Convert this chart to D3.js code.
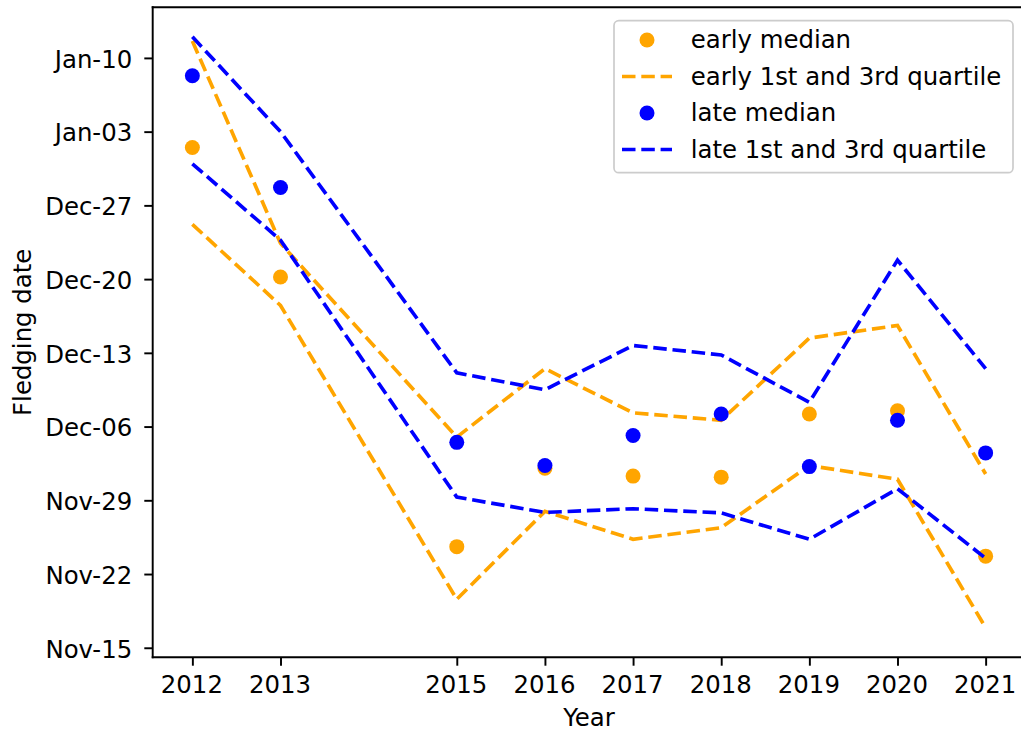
<!DOCTYPE html>
<html><head><meta charset="utf-8">
<script src="https://cdn.jsdelivr.net/npm/d3@7"></script>
<style>
body{margin:0;background:#fff;}
svg{display:block;font-family:"DejaVu Sans",sans-serif;}
</style>
</head><body>
<svg id="c" width="1021" height="731"></svg>
<script>
// ---- data (values: days after Nov-15) ----
const years = [2012, 2013, 2015, 2016, 2017, 2018, 2019, 2020, 2021];
const earlyMedian = [47.5, 35.2, 9.6, 17.05, 16.3, 16.2, 22.2, 22.5, 8.7];
const earlyQ1     = [40.2, 32.5, 4.6, 12.95, 10.3, 11.4, 17.3, 16.0, 1.9];
const earlyQ3     = [57.6, 38.4, 20.0, 26.5, 22.3, 21.6, 29.4, 30.6, 16.5];
const lateMedian  = [54.3, 43.7, 19.5, 17.3, 20.15, 22.2, 17.2, 21.6, 18.5];
const lateQ1      = [45.95, 38.7, 14.3, 12.85, 13.2, 12.8, 10.3, 15.1, 8.5];
const lateQ3      = [58.0, 49.0, 26.1, 24.5, 28.7, 27.8, 23.3, 36.8, 26.5];
const dayTicks      = [0, 7, 14, 21, 28, 35, 42, 49, 56];
const dayTickLabels = ["Nov-15", "Nov-22", "Nov-29", "Dec-06", "Dec-13", "Dec-20", "Dec-27", "Jan-03", "Jan-10"];
const legendLabels  = ["early median", "early 1st and 3rd quartile", "late median", "late 1st and 3rd quartile"];
const ORANGE = "#FFA500", BLUE = "#0000FF";

// ---- layout ----
const L = 152.7, R = 1025.3, T = 7.3, B = 657.3;
const FS = 24.4;
const LW = 3.65, AXW = 1.94, TICK = 8.4, MR = 7.5;
const dash = "13.5,5.8";
const svg = d3.select("#c");

const pad = (ext) => { const d = (ext[1] - ext[0]) * 0.05; return [ext[0] - d, ext[1] + d]; };
const x = d3.scaleLinear().domain(pad(d3.extent(years))).range([L, R]);
const allVals = [].concat(earlyMedian, earlyQ1, earlyQ3, lateMedian, lateQ1, lateQ3);
const y = d3.scaleLinear().domain(pad(d3.extent(allVals))).range([B, T]);

const line = d3.line().x((d, i) => x(years[i])).y(d => y(d));

function drawLine(vals, color) {
  svg.append("path").datum(vals).attr("d", line)
    .attr("fill", "none").attr("stroke", color).attr("stroke-width", LW)
    .attr("stroke-dasharray", dash).attr("stroke-linecap", "butt");
}
function drawDots(vals, color) {
  svg.append("g").selectAll("circle").data(vals).join("circle")
    .attr("cx", (d, i) => x(years[i])).attr("cy", d => y(d)).attr("r", MR)
    .attr("fill", color);
}

drawDots(earlyMedian, ORANGE);
drawLine(earlyQ1, ORANGE);
drawLine(earlyQ3, ORANGE);
drawDots(lateMedian, BLUE);
drawLine(lateQ1, BLUE);
drawLine(lateQ3, BLUE);

// ---- axes ----
const xAxis = svg.append("g").attr("transform", `translate(0,${B})`)
  .call(d3.axisBottom(x).tickValues(years).tickFormat(d3.format("d")).tickSize(TICK).tickSizeOuter(0));
xAxis.select(".domain").remove();
xAxis.selectAll(".tick line").attr("stroke", "#000").attr("stroke-width", AXW);
xAxis.selectAll(".tick text").attr("y", 36).attr("dy", null).attr("dx", -1)
  .attr("font-size", FS).attr("fill", "#000").attr("font-family", "DejaVu Sans");

const yAxis = svg.append("g").attr("transform", `translate(${L},0)`)
  .call(d3.axisLeft(y).tickValues(dayTicks).tickFormat((d, i) => dayTickLabels[i]).tickSize(TICK).tickSizeOuter(0));
yAxis.select(".domain").remove();
yAxis.selectAll(".tick line").attr("stroke", "#000").attr("stroke-width", AXW);
yAxis.selectAll(".tick text").attr("x", -20.5).attr("dy", 9.3)
  .attr("font-size", FS).attr("fill", "#000").attr("font-family", "DejaVu Sans");

// spines
const sp = svg.append("g").attr("stroke", "#000").attr("stroke-width", AXW).attr("stroke-linecap", "square");
sp.append("line").attr("x1", L).attr("x2", L).attr("y1", T).attr("y2", B);
sp.append("line").attr("x1", L).attr("x2", R).attr("y1", T).attr("y2", T);
sp.append("line").attr("x1", L).attr("x2", R).attr("y1", B).attr("y2", B);
sp.append("line").attr("x1", R).attr("x2", R).attr("y1", T).attr("y2", B);

// axis labels
svg.append("text").attr("x", (L + R) / 2).attr("y", 726).attr("text-anchor", "middle")
  .attr("font-size", FS).attr("fill", "#000").text("Year");
svg.append("text").attr("transform", `translate(31,${(T + B) / 2}) rotate(-90)`).attr("text-anchor", "middle")
  .attr("font-size", FS).attr("fill", "#000").text("Fledging date");

// ---- legend ----
const lg = svg.append("g");
lg.append("rect").attr("x", 614).attr("y", 20.7).attr("width", 399).attr("height", 152)
  .attr("rx", 4.8).attr("fill", "#fff").attr("fill-opacity", 0.8)
  .attr("stroke", "#cccccc").attr("stroke-width", 1.7);
const kinds = ["dot", "line", "dot", "line"];
const colors = [ORANGE, ORANGE, BLUE, BLUE];
legendLabels.forEach((lab, i) => {
  const cy = 40 + i * 36.5;
  if (kinds[i] === "dot") {
    lg.append("circle").attr("cx", 647).attr("cy", cy).attr("r", MR).attr("fill", colors[i]);
  } else {
    lg.append("line").attr("x1", 622).attr("x2", 672).attr("y1", cy).attr("y2", cy)
      .attr("stroke", colors[i]).attr("stroke-width", LW).attr("stroke-dasharray", dash);
  }
  lg.append("text").attr("x", 690.7).attr("y", cy + 8).attr("font-size", FS).attr("fill", "#000").text(lab);
});
</script>
</body></html>
